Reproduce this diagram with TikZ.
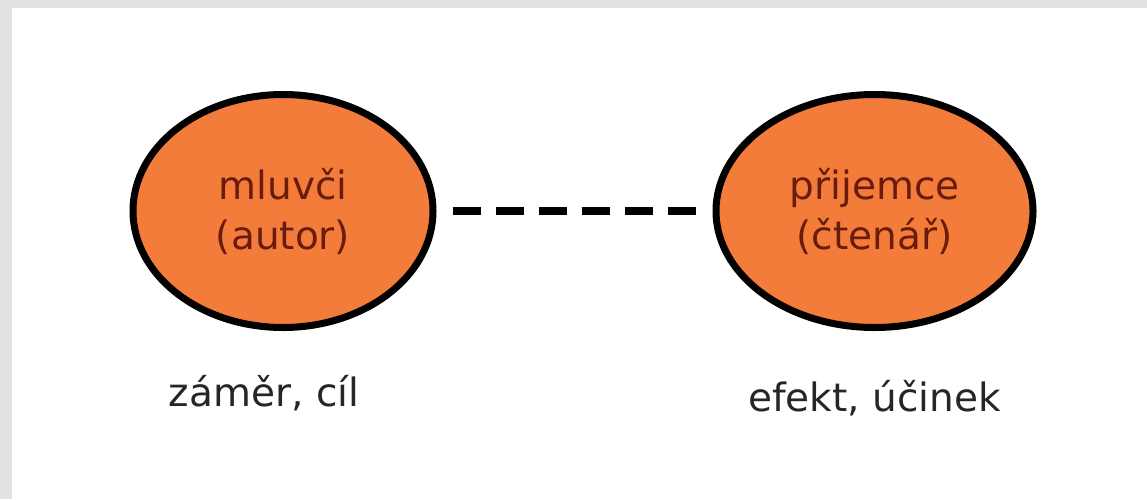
\documentclass[tikz,border=0pt]{standalone}
\usepackage{fontspec}
\setmainfont{DejaVu Sans}
\usepackage{tikz}
\usetikzlibrary{shapes,positioning}
\definecolor{bubblefill}{RGB}{244,124,58}
\definecolor{bubbletext}{RGB}{105,28,12}
\definecolor{framegray}{RGB}{226,226,226}

\begin{document}
\begin{tikzpicture}[x=1pt, y=-1pt, node distance=41pt,
        bubble/.style={draw, ellipse, line width=7pt, fill=bubblefill, text=bubbletext, align=center, font=\fontsize{39}{50}\selectfont},
        note/.style={font=\fontsize{39}{46}\selectfont, text=black!85}
    ]
        % frame
        \fill [framegray] (0,0) rectangle (1147,499);
        \fill [white] (12,8) rectangle (1147,499);
        \useasboundingbox (0,0) rectangle (1147,499);

        \node [bubble, minimum width=300pt, minimum height=233pt] (mluv) at (283,211) {mluvči\\(autor)};
        \node [bubble, minimum width=317pt, minimum height=233pt, right=276pt of mluv] (prij) {přijemce\\(čtenář)};
        \node [note, below=of mluv, xshift=-19pt] (zamer) {záměr, cíl};
        \node [note, below=46pt of prij] (efekt) {efekt, účinek};

        \draw [line width=8pt, dash pattern=on 28pt off 15pt, shorten <=16pt, shorten >=16pt] (mluv) -- (prij);
    \end{tikzpicture}
\end{document}
